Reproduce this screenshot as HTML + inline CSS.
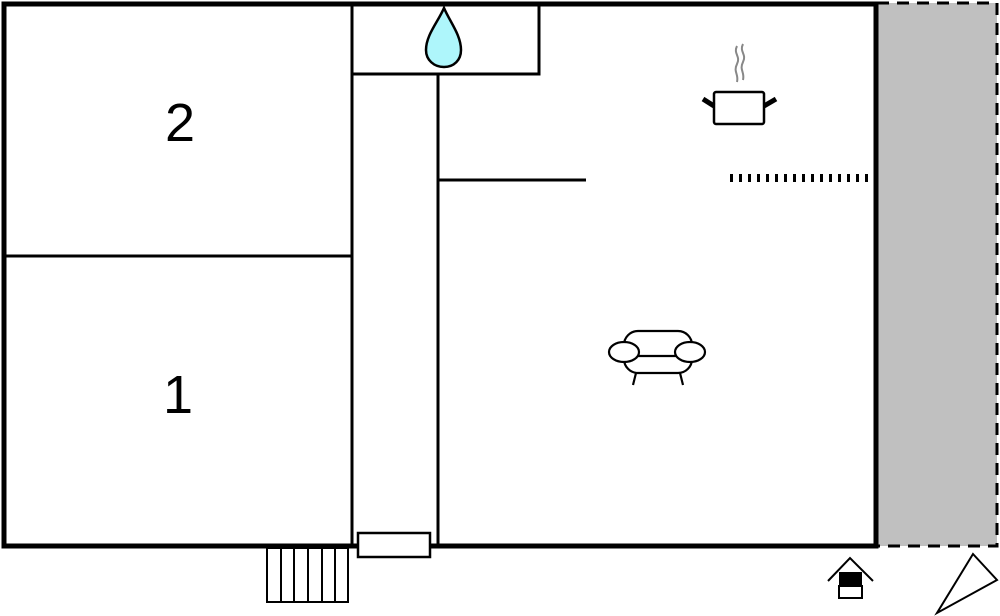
<!DOCTYPE html>
<html><head><style>body{margin:0;background:#fff}svg{display:block}</style></head><body>
<svg width="1000" height="616" viewBox="0 0 1000 616" xmlns="http://www.w3.org/2000/svg">
<rect x="877" y="3" width="120" height="543" fill="#c0c0c0" stroke="#000" stroke-width="3" stroke-dasharray="12,8"/>
<rect x="4" y="4" width="872" height="542" fill="#fff" stroke="#000" stroke-width="5"/>
<g stroke="#000" stroke-width="3" fill="none">
<line x1="352" y1="4" x2="352" y2="546"/>
<line x1="438" y1="74" x2="438" y2="546"/>
<polyline points="352,74 539,74 539,4"/>
<line x1="4" y1="256" x2="352" y2="256"/>
<line x1="438" y1="180" x2="586" y2="180"/>
</g>
<line x1="730" y1="178" x2="870" y2="178" stroke="#000" stroke-width="8" stroke-dasharray="3,6"/>
<path d="M444,8 C438,22 426,35 426,50 C426,60 434,67 444,67 C454,67 461,60 461,50 C461,35 450,22 444,8Z" fill="#aef6fb" stroke="#000" stroke-width="2.5"/>
<text x="180" y="141" font-family="Liberation Sans, sans-serif" font-size="54" text-anchor="middle">2</text>
<text x="178" y="413" font-family="Liberation Sans, sans-serif" font-size="54" text-anchor="middle">1</text>
<g stroke="#888" stroke-width="2" fill="none">
<path d="M737,46 c-4,8 4,10 0,18 c-4,8 2,10 0,18"/>
<path d="M743,44 c-4,8 4,10 0,18 c-4,8 2,10 0,18"/>
</g>
<rect x="714" y="92" width="50" height="32" rx="2" fill="#fff" stroke="#000" stroke-width="2.5"/>
<line x1="703" y1="99" x2="714" y2="106" stroke="#000" stroke-width="5"/>
<line x1="764" y1="106" x2="776" y2="99" stroke="#000" stroke-width="5"/>
<g stroke="#000" stroke-width="2.2" fill="#fff">
<rect x="624" y="331" width="68" height="42" rx="14"/>
<line x1="630" y1="356" x2="686" y2="356"/>
<ellipse cx="624" cy="352" rx="15" ry="10"/>
<ellipse cx="690" cy="352" rx="15" ry="10"/>
<line x1="636" y1="373" x2="633" y2="385"/>
<line x1="680" y1="373" x2="683" y2="385"/>
</g>
<rect x="358" y="533" width="72" height="24" fill="#fff" stroke="#000" stroke-width="2.5"/>
<g stroke="#000" stroke-width="2" fill="#fff">
<rect x="267" y="548" width="81" height="54"/>
<line x1="281" y1="548" x2="281" y2="602"/>
<line x1="294" y1="548" x2="294" y2="602"/>
<line x1="308" y1="548" x2="308" y2="602"/>
<line x1="322" y1="548" x2="322" y2="602"/>
<line x1="335" y1="548" x2="335" y2="602"/>
</g>
<polyline points="828,581 850,558 873,581" fill="none" stroke="#000" stroke-width="2"/>
<rect x="839" y="572" width="23" height="14" fill="#000"/>
<rect x="839" y="586" width="23" height="12" fill="#fff" stroke="#000" stroke-width="2"/>
<polygon points="973,554 997,580 937,613" fill="#fff" stroke="#000" stroke-width="2"/>
</svg>
</body></html>
